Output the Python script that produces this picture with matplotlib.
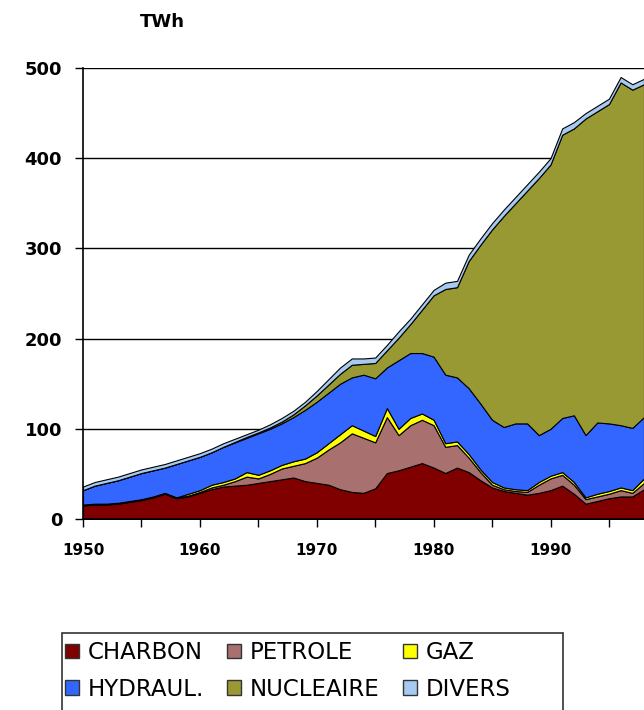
import numpy as np
import matplotlib
matplotlib.use('Agg')
import matplotlib.pyplot as plt
from matplotlib.patches import Patch, Rectangle
from matplotlib.ticker import MultipleLocator, FuncFormatter

# production d'electricite en France, TWh par filiere
years = np.arange(1950, 1999)
charbon = [15, 16, 16, 17, 19, 21, 24, 28, 23, 25,
           29, 33, 36, 37, 38, 40, 42, 44, 46, 42,
           40, 38, 33, 30, 29, 34, 51, 54, 58, 62,
           57, 51, 57, 52, 43, 35, 31, 29, 27, 29,
           32, 37, 28, 17, 20, 23, 25, 25, 33]
petrole = [0.5, 0.5, 0.5, 0.5, 0.5, 0.5, 0.5, 0.5, 0.5, 1,
           1, 2, 2, 5, 9, 5, 8, 12, 13, 20,
           28, 39, 52, 65, 61, 51, 62, 39, 46, 48,
           47, 29, 25, 16, 9, 3, 2, 2, 3, 9,
           13, 12, 10, 5, 5, 5, 7, 4, 7]
gaz = [0.5, 0.5, 0.5, 0.5, 0.5, 0.5, 0.5, 0.5, 0.5, 2,
       2, 3, 3, 3, 5, 4, 4, 4, 5, 5,
       6, 7, 9, 9, 8, 7, 10, 7, 8, 7,
       6, 4, 4, 4, 3, 3, 2, 2, 2, 3,
       3, 3, 3, 2, 3, 3, 3, 3, 5]
hydraul = [16, 20, 23, 25, 27, 29, 29, 28, 37, 37,
           37, 36, 39, 40, 38, 46, 46, 46, 49, 54,
           56, 56, 56, 53, 62, 64, 45, 76, 72, 67,
           70, 76, 71, 73, 73, 69, 67, 73, 74, 52,
           52, 60, 74, 69, 79, 75, 69, 69, 68]
nucleaire = [0, 0, 0, 0, 0, 0, 0, 0, 0, 0,
             0, 0, 0, 0.5, 1, 1, 1.5, 2, 3, 5,
             7, 9, 11, 14, 12, 17, 19, 25, 32, 48,
             68, 95, 100, 141, 176, 211, 234, 244, 258, 285,
             293, 314, 318, 351, 345, 354, 380, 375, 369]
divers = [4, 4, 4, 4, 4, 4, 4, 4, 4, 4,
          4, 4, 4, 3.5, 3, 3, 3.5, 4, 4, 4,
          5, 6, 7, 7, 6, 6, 6, 7, 6, 6,
          6, 7, 7, 7, 7, 7, 7, 7, 7, 7,
          7, 7, 7, 6, 6, 6, 6, 6, 6]

labels = ['CHARBON', 'PETROLE', 'GAZ', 'HYDRAUL.', 'NUCLEAIRE', 'DIVERS']
colors = ['#800000', '#A8706E', '#FFFF00', '#3366FF', '#999933', '#A6CAF0']

fig = plt.figure(figsize=(6.44, 7.10), dpi=100)
ax = fig.add_axes([83/644, 1-519/710, 1-83/644, (519-68)/710])

ax.stackplot(years, charbon, petrole, gaz, hydraul, nucleaire, divers,
             colors=colors, edgecolor='black', linewidth=0.8, zorder=2)

ax.set_xlim(1950, 1998)
ax.set_ylim(0, 500)
ax.set_yticks(range(0, 501, 100))
ax.xaxis.set_major_locator(MultipleLocator(5))
ax.xaxis.set_major_formatter(FuncFormatter(lambda v, p: '%d' % v if int(v) % 10 == 0 else ''))
ax.grid(axis='y', color='black', linewidth=1, zorder=1)
ax.set_axisbelow(True)

for s in ['top', 'right']:
    ax.spines[s].set_visible(False)
for s in ['left', 'bottom']:
    ax.spines[s].set_linewidth(1.2)
    ax.spines[s].set_zorder(3)

ax.tick_params(axis='y', direction='out', length=6, width=1, pad=9, labelsize=13)
ax.tick_params(axis='x', direction='out', length=6, width=1, pad=11, labelsize=11)
for t in ax.get_yticklabels() + ax.get_xticklabels():
    t.set_fontweight('bold')

fig.text(0.252, 0.969, 'TWh', fontsize=13, fontweight='bold', ha='center', va='center')

handles = [Patch(facecolor=c, edgecolor='#333333', linewidth=1) for c in colors]
# ncol fills column by column: reorder so rows read CHARBON PETROLE GAZ / HYDRAUL. NUCLEAIRE DIVERS
order = [0, 3, 1, 4, 2, 5]
leg = fig.legend([handles[i] for i in order], [labels[i] for i in order],
                 ncol=3, loc='upper left', bbox_to_anchor=(65/644, 1-641/710),
                 fontsize=16.5, handlelength=0.62, handleheight=0.62, handletextpad=0.38,
                 columnspacing=1.0, borderpad=0.0, labelspacing=0.6,
                 frameon=False, borderaxespad=0)
# legend box, open at the bottom edge of the picture
fig.patches.append(Rectangle((62/644, -0.01), (563-62)/644, 0.01+1-633/710,
                             transform=fig.transFigure, fill=False,
                             edgecolor='#333333', linewidth=1.2))

fig.savefig('out.png', dpi=100)
